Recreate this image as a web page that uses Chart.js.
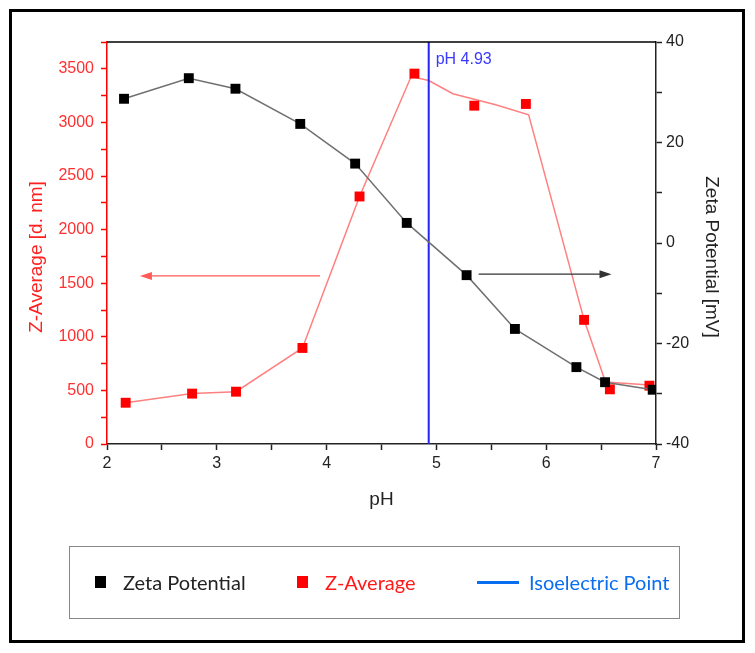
<!DOCTYPE html>
<html>
<head>
<meta charset="utf-8">
<script src="https://cdn.jsdelivr.net/npm/chart.js@4.4.1/dist/chart.umd.min.js"></script>
<style>
  body { margin: 0; background: #fff; }
  #wrap { position: relative; width: 755px; height: 653px; }
  #frame { position: absolute; left: 9px; top: 9px; width: 736px; height: 634px; box-sizing: border-box; border: 3px solid #000; }
  canvas { position: absolute; left: 0; top: 0; }
  #legend { position: absolute; left: 69px; top: 546px; width: 611px; height: 73px; box-sizing: border-box;
            border: 1.5px solid #888; font-family: Lato, sans-serif; font-size: 20px; }
  .item { position: absolute; top: 24px; line-height: 22px; white-space: nowrap; }
  .sq { display: inline-block; width: 11px; height: 12px; vertical-align: middle; margin-right: 17px; position: relative; top: -3px; }
  .ln { display: inline-block; width: 42px; height: 3px; vertical-align: middle; margin-right: 10px; position: relative; top: -2px; }
</style>
</head>
<body>
<div id="wrap">
  <div id="frame"></div>
  <canvas id="chart" width="755" height="653"></canvas>
  <div id="legend">
    <div class="item" style="left:25px;color:#222"><span class="sq" style="background:#000"></span>Zeta Potential</div>
    <div class="item" style="left:227px;color:#ff1a1a"><span class="sq" style="background:#ff0000"></span>Z-Average</div>
    <div class="item" style="left:407px;color:#0a6ef0"><span class="ln" style="background:#0a6ef0"></span>Isoelectric Point</div>
  </div>
</div>
<script>
// zeta potential markers (right axis, mV)
const phZeta = [2.155, 2.745, 3.17, 3.76, 4.26, 4.73, 5.275, 5.715, 6.275, 6.536, 6.97];
const zetaMv = [28.7, 32.8, 30.7, 23.7, 15.8, 4.0, -6.4, -17.1, -24.7, -27.7, -29.2];

// z-average markers (left axis, d. nm)
const phZavg = [2.17, 2.775, 3.175, 3.78, 4.30, 4.80, 5.345, 5.815, 6.345, 6.58, 6.94];
const zAvgNm = [385, 470, 488, 896, 2309, 3455, 3156, 3172, 1158, 510, 544];

// the red connecting line does not go exactly through the markers
const phZavgCurve = [2.17, 2.775, 3.175, 3.78, 4.30, 4.77, 4.93, 5.15, 5.54, 5.84, 6.345, 6.54, 6.94];
const zAvgCurve = [385, 470, 488, 896, 2309, 3428, 3391, 3267, 3164, 3071, 1158, 579, 551];

// isoelectric point
const isoPh = 4.93;
const isoLabel = "pH 4.93";

// arrows pointing to the axes
const leftArrowPh = [3.94, 2.30];
const leftArrowZ = 1568;
const rightArrowPh = [5.385, 6.595];
const rightArrowMv = -6.2;

const xTicks = [2, 3, 4, 5, 6, 7];
const yTicks = [0, 500, 1000, 1500, 2000, 2500, 3000, 3500];
const y2Ticks = [-40, -20, 0, 20, 40];

const tickFont = { family: "'Liberation Sans', Arial, sans-serif", size: 16 };

function pts(xs, ys) {
  return xs.map((x, i) => ({ x: x, y: ys[i] }));
}

// add half-step minor ticks, only majors get labels
function withMinor(major) {
  return function(scale) {
    const step = (major[1] - major[0]) / 2;
    const out = [];
    for (let v = scale.min; v <= scale.max + 1e-9; v += step) out.push({ value: v });
    scale.ticks = out;
  };
}
function majorLabel(major) {
  return function(v) { return major.includes(v) ? v : ''; };
}

function drawArrow(ctx, x1, y, x2, color) {
  const dir = x2 > x1 ? 1 : -1;
  ctx.strokeStyle = color; ctx.fillStyle = color; ctx.lineWidth = 1.3;
  ctx.beginPath(); ctx.moveTo(x1, y); ctx.lineTo(x2 - dir * 10, y); ctx.stroke();
  ctx.beginPath();
  ctx.moveTo(x2, y); ctx.lineTo(x2 - dir * 12, y - 4); ctx.lineTo(x2 - dir * 12, y + 4);
  ctx.closePath(); ctx.fill();
}

const decor = {
  id: 'decor',
  afterDraw(chart) {
    const { ctx, chartArea: a, scales } = chart;
    const x = scales.x, y = scales.y, y2 = scales.y2;
    ctx.save();
    // top edge of plot box
    ctx.strokeStyle = '#000'; ctx.lineWidth = 1.5;
    ctx.beginPath(); ctx.moveTo(a.left, a.top); ctx.lineTo(a.right, a.top); ctx.stroke();

    drawArrow(ctx, x.getPixelForValue(leftArrowPh[0]), y.getPixelForValue(leftArrowZ),
              x.getPixelForValue(leftArrowPh[1]), '#ff5a5a');
    drawArrow(ctx, x.getPixelForValue(rightArrowPh[0]), y2.getPixelForValue(rightArrowMv),
              x.getPixelForValue(rightArrowPh[1]), '#333');

    // label next to the isoelectric line
    ctx.font = "16px 'Liberation Sans', Arial, sans-serif";
    ctx.fillStyle = '#3a3aff';
    ctx.textBaseline = 'middle'; ctx.textAlign = 'left';
    ctx.fillText(isoLabel, x.getPixelForValue(isoPh) + 7, a.top + 18);

    // axis titles
    const midY = (a.top + a.bottom) / 2 + 14;
    ctx.font = "19px 'Liberation Sans', Arial, sans-serif";
    ctx.textAlign = 'center';
    ctx.fillStyle = '#ff2020';
    ctx.save(); ctx.translate(37, midY); ctx.rotate(-Math.PI / 2); ctx.fillText('Z-Average [d. nm]', 0, 0); ctx.restore();
    ctx.fillStyle = '#222';
    ctx.save(); ctx.translate(a.right + 55, midY); ctx.rotate(Math.PI / 2); ctx.fillText('Zeta Potential [mV]', 0, 0); ctx.restore();
    ctx.fillText('pH', (a.left + a.right) / 2, a.bottom + 56);
    ctx.restore();
  }
};

new Chart(document.getElementById('chart'), {
  type: 'scatter',
  data: {
    datasets: [
      { label: 'Zeta Potential', data: pts(phZeta, zetaMv), yAxisID: 'y2', showLine: true,
        borderColor: '#707070', borderWidth: 1.5, pointStyle: 'rect', pointRadius: 7, pointHoverRadius: 7,
        pointBackgroundColor: '#000', pointBorderWidth: 0 },
      { label: 'Isoelectric Point', data: [{ x: isoPh, y: 0 }, { x: isoPh, y: 3750 }], yAxisID: 'y', showLine: true,
        borderColor: '#2424f0', borderWidth: 2, pointRadius: 0 },
      { label: 'Z-Average', data: pts(phZavg, zAvgNm), yAxisID: 'y', showLine: false,
        pointStyle: 'rect', pointRadius: 7, pointHoverRadius: 7, pointBackgroundColor: '#ff0000', pointBorderWidth: 0 },
      { label: 'Z-Average line', data: pts(phZavgCurve, zAvgCurve), yAxisID: 'y', showLine: true,
        borderColor: '#ff8080', borderWidth: 1.5, pointRadius: 0 }
    ]
  },
  options: {
    responsive: false,
    animation: false,
    layout: { padding: { top: 42, left: 0, right: 0, bottom: 0 } },
    plugins: { legend: { display: false }, tooltip: { enabled: false } },
    scales: {
      x: {
        type: 'linear', min: 2, max: 7,
        afterBuildTicks: withMinor(xTicks),
        afterFit: s => { s.height = 209; },
        ticks: { callback: majorLabel(xTicks), font: tickFont, color: '#222', padding: 4, maxRotation: 0, autoSkip: false },
        grid: { drawOnChartArea: false, color: '#222', tickLength: 6, tickWidth: 1.5 },
        border: { color: '#222', width: 1.5 }
      },
      y: {
        type: 'linear', position: 'left', min: 0, max: 3750,
        afterBuildTicks: withMinor(yTicks),
        afterFit: s => { s.width = 107; },
        ticks: { callback: majorLabel(yTicks), font: tickFont, color: '#ff3030', padding: 7, autoSkip: false },
        grid: { drawOnChartArea: false, color: '#ff0000', tickLength: 6, tickWidth: 1.5 },
        border: { color: '#ff0000', width: 1.5 }
      },
      y2: {
        type: 'linear', position: 'right', min: -40, max: 40,
        afterBuildTicks: withMinor(y2Ticks),
        afterFit: s => { s.width = 99; },
        ticks: { callback: majorLabel(y2Ticks), font: tickFont, color: '#222', padding: 4, autoSkip: false },
        grid: { drawOnChartArea: false, color: '#222', tickLength: 6, tickWidth: 1.5 },
        border: { color: '#222', width: 1.5 }
      }
    }
  },
  plugins: [decor]
});
</script>
</body>
</html>
